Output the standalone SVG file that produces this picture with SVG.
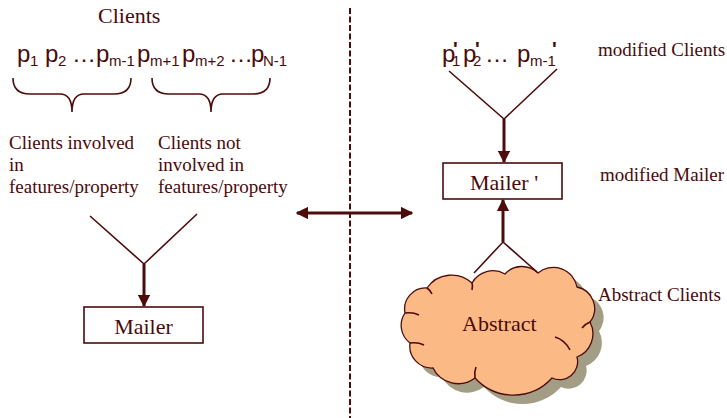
<svg xmlns="http://www.w3.org/2000/svg" width="727" height="418" viewBox="0 0 727 418">
  <style>
    .serif { font-family: "Liberation Serif", "Times New Roman", serif; fill: #4a0a0a; }
    .sans { font-family: "Liberation Sans", Arial, sans-serif; fill: #4a0a0a; }
    .p { font-size: 24px; }
    .sub { font-size: 15px; }
    .prime { font-size: 20px; font-weight: bold; }
    .lbl { font-size: 19px; }
    .big { font-size: 22px; }
    .line { stroke: #4d0b0b; stroke-width: 1.6; fill: none; }
    .shaft { stroke: #4d0b0b; stroke-width: 3; fill: none; }
    .box { fill: #ffffff; stroke: #4d0b0b; stroke-width: 1.6; }
  </style>
  <defs>
    <marker id="head" viewBox="0 0 10 10" refX="9" refY="5" markerWidth="4.2" markerHeight="4.2" orient="auto-start-reverse" markerUnits="strokeWidth">
      <path d="M0,0 L10,5 L0,10 z" fill="#4d0b0b"/>
    </marker>
    <path id="cloudShape" d="M427,288 A30,30 0 0 1 472,283 A24,24 0 0 1 505,274 A23,23 0 0 1 538,273 A24,24 0 0 1 577,287 A22,22 0 0 1 590,322 A25,25 0 0 1 577,357 A18,18 0 0 1 552,378 A52,52 0 0 1 475,378 A28,28 0 0 1 433,368 A22,22 0 0 1 410,343 A22,22 0 0 1 405,313 A21,21 0 0 1 427,288 Z"/>
  </defs>

  <!-- centre divider -->
  <line x1="350" y1="8" x2="350" y2="418" stroke="#4d0b0b" stroke-width="2" stroke-dasharray="6,2.5"/>

  <!-- left side: client list -->
  <g id="clients">
    <text class="serif big" x="98" y="23">Clients</text>
    <text class="sans p" y="62"><tspan x="17">p</tspan><tspan class="sub" x="30" y="66">1</tspan><tspan x="45" y="62">p</tspan><tspan class="sub" x="58" y="66">2</tspan><tspan x="72" y="62">…</tspan><tspan x="96">p</tspan><tspan class="sub" x="109" y="66">m-1</tspan><tspan x="137" y="62">p</tspan><tspan class="sub" x="150" y="66">m+1</tspan><tspan x="182" y="62">p</tspan><tspan class="sub" x="195" y="66">m+2</tspan><tspan x="229" y="62">…</tspan><tspan x="251">p</tspan><tspan class="sub" x="263" y="66">N-1</tspan></text>
  </g>

  <g id="brace-involved">
    <path class="line" d="M13,78 Q13,94 30,94 L60,94 Q72,94 72,112 Q72,94 84,94 L114,94 Q131,94 131,78"/>
    <text class="serif lbl" x="9" y="149">Clients involved</text>
    <text class="serif lbl" x="9" y="171">in</text>
    <text class="serif lbl" x="9" y="193">features/property</text>
  </g>

  <g id="brace-not-involved">
    <path class="line" d="M152,78 Q152,94 169,94 L199,94 Q211,94 211,112 Q211,94 223,94 L253,94 Q270,94 270,78"/>
    <text class="serif lbl" x="158" y="149">Clients not</text>
    <text class="serif lbl" x="158" y="171">involved in</text>
    <text class="serif lbl" x="158" y="193">features/property</text>
  </g>

  <g id="mailer">
    <rect class="box" x="84" y="307" width="119" height="36"/>
    <text class="serif big" x="143.5" y="334" text-anchor="middle">Mailer</text>
  </g>

  <!-- right side: modified clients -->
  <g id="modified-clients">
    <text class="sans p" y="62"><tspan x="442">p</tspan><tspan class="prime" x="453" y="56">'</tspan><tspan class="sub" x="452" y="66">1</tspan><tspan x="463" y="62">p</tspan><tspan class="prime" x="475" y="56">'</tspan><tspan class="sub" x="473" y="66">2</tspan><tspan x="485" y="62">…</tspan><tspan x="517">p</tspan><tspan class="sub" x="530" y="66">m-1</tspan><tspan class="prime" x="552" y="56">'</tspan></text>
    <text class="serif lbl" x="598" y="56">modified Clients</text>
  </g>

  <g id="mailer-prime">
    <rect class="box" x="443" y="163" width="119" height="36"/>
    <text class="serif big" x="470" y="190">Mailer '</text>
    <text class="serif lbl" x="600" y="181">modified Mailer</text>
  </g>

  <g id="abstract-clients">
    <use href="#cloudShape" transform="translate(9,9)" fill="#a49d85"/>
    <use href="#cloudShape" fill="#fab985" stroke="#4d0b0b" stroke-width="1.3"/>
    <!-- inner fold strokes of the cloud -->
    <g class="line" stroke-width="1.1">
      <path d="M427,288 Q430,290 432,294"/>
      <path d="M472,283 Q473,286 472,290"/>
      <path d="M590,322 Q585,324 582,328"/>
      <path d="M555,337 Q565,340 570,350"/>
      <path d="M475,378 Q474,372 476,367"/>
      <path d="M410,343 Q418,342 424,345"/>
      <path d="M405,313 Q413,312 419,315"/>
    </g>
    <text class="serif big" x="462" y="331">Abstract</text>
    <text class="serif lbl" x="598" y="301">Abstract Clients</text>
  </g>

  <!-- connectors -->
  <g id="connectors">
    <path class="line" d="M90,216 L144,264 L197,214"/>
    <line class="shaft" x1="144" y1="264" x2="144" y2="306" marker-end="url(#head)"/>
    <path class="line" d="M449,71 L504,119 L557,69"/>
    <line class="shaft" x1="504" y1="119" x2="504" y2="162" marker-end="url(#head)"/>
    <path class="line" d="M474,273 L503,242 L537,272"/>
    <line class="shaft" x1="503" y1="242" x2="503" y2="200" marker-end="url(#head)"/>
    <line class="shaft" x1="297" y1="213" x2="412" y2="213" marker-start="url(#head)" marker-end="url(#head)"/>
  </g>
</svg>
